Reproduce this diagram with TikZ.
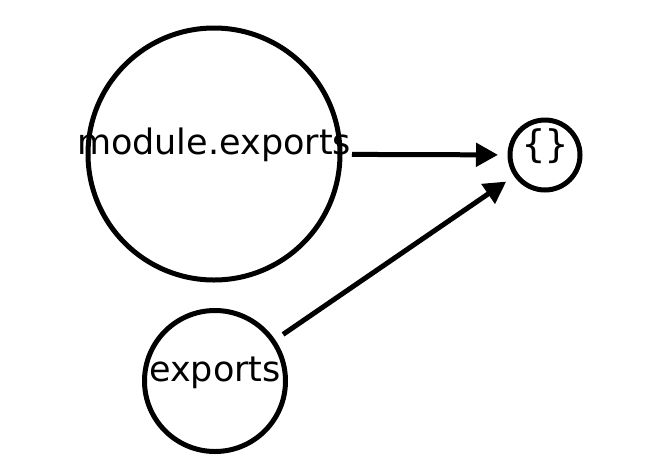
\documentclass[tikz,border=0pt]{standalone}
\usepackage{fontspec}
\setmainfont{DejaVu Sans}
\newfontfamily\codefont{DejaVu Sans Mono}
\usetikzlibrary{arrows.meta}
\begin{document}
\begin{tikzpicture}[x=1pt, y=-1pt,
            bubble/.style={circle, draw=black, line width=5pt, inner sep=0pt, outer sep=12pt},
            word/.style={anchor=base, inner sep=0pt, font=\fontsize{35}{42}\selectfont},
            link/.style={line width=5pt, -{Triangle[length=22pt, width=23pt]}},
        ]
            \useasboundingbox (0,0) rectangle (670,475);
            \node(modexp) at (214,154) [bubble, minimum size=252pt] {};
            \node(exp) at (215,381) [bubble, minimum size=141pt] {};
            \node(obj) at (545,155) [bubble, minimum size=70pt] {};
            \node(modexplabel) at (modexp.center) [word] {module.exports};
            \node(explabel) at (exp.center) [word] {exports};
            \node(objlabel) at (obj.center) [word, yshift=-2pt] {\codefont\fontsize{38}{44}\selectfont\{\}};
            \draw[link] (modexp) -- (obj);
            \draw[link] (exp) -- (obj);
        \end{tikzpicture}
\end{document}
